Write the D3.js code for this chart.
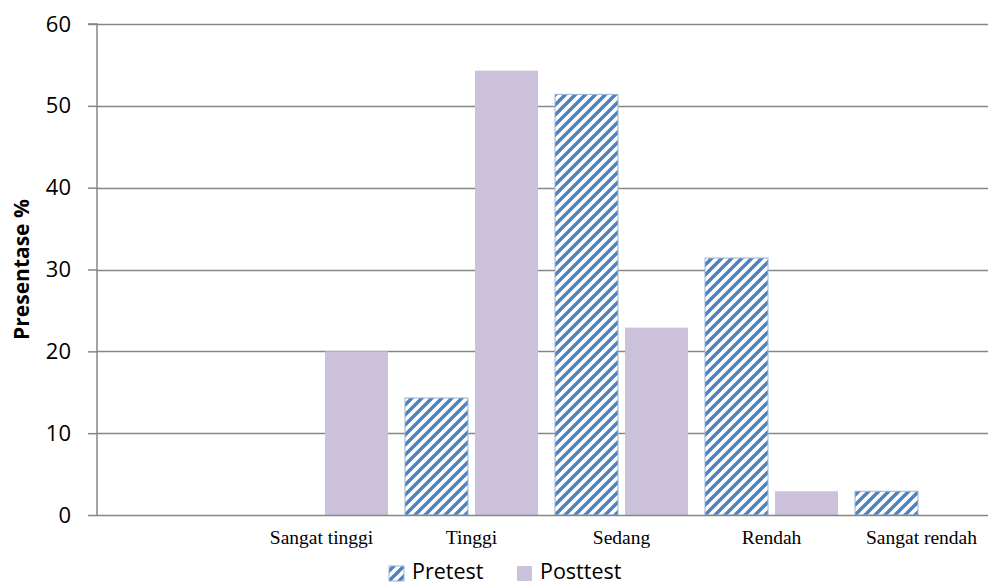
<!DOCTYPE html>
<html>
<head>
<meta charset="utf-8">
<script src="https://cdn.jsdelivr.net/npm/d3@7"></script>
<style>
  html, body { margin: 0; padding: 0; background: #fff; }
  svg { display: block; }
</style>
</head>
<body>
<svg id="chart" width="988" height="585"></svg>
<script>
// Category slots (the first slot is left blank on the axis)
const categories = ["", "Sangat tinggi", "Tinggi", "Sedang", "Rendah", "Sangat rendah"];
const seriesNames = ["Pretest", "Posttest"];
const pretest  = [0, 0, 14.3, 51.4, 31.4, 2.9];
const posttest = [0, 20, 54.3, 22.9, 2.9, 0];
const yTicks = [0, 10, 20, 30, 40, 50, 60];

const svg = d3.select("#chart");
const plotLeft = 96.5, plotRight = 996.5, plotTop = 24, plotBottom = 515;

const x = d3.scaleBand().domain(categories).range([plotLeft, plotRight]).paddingInner(0).paddingOuter(0);
const inner = d3.scaleBand().domain(seriesNames).range([8.5, 141.5]).paddingInner(0.1);
const y = d3.scaleLinear().domain([0, 60]).range([plotBottom, plotTop]);

// Diagonal hatch for the pretest bars
const defs = svg.append("defs");
const pat = defs.append("pattern")
  .attr("id", "hatch").attr("patternUnits", "userSpaceOnUse")
  .attr("width", 10).attr("height", 10);
pat.append("rect").attr("width", 10).attr("height", 10).attr("fill", "#fff");
pat.append("path").attr("d", "M-2,2 L2,-2 M0,10 L10,0 M8,12 L12,8")
  .attr("stroke", "#4f81bd").attr("stroke-width", 3.4);

// Gridlines
svg.append("g").selectAll("line").data(yTicks.filter(d => d > 0)).join("line")
  .attr("x1", plotLeft).attr("x2", 988)
  .attr("y1", d => Math.round(y(d)) + 0.5).attr("y2", d => Math.round(y(d)) + 0.5)
  .attr("stroke", "#868686").attr("stroke-width", 1.5);

// Y axis
const yAxis = d3.axisLeft(y).tickValues(yTicks).tickSize(9).tickPadding(17).tickFormat(d3.format("d"));
const gy = svg.append("g").attr("transform", `translate(${plotLeft + 0.5},0)`).call(yAxis);
gy.select(".domain").attr("stroke", "#868686").attr("stroke-width", 1.5).attr("d", `M-9,${plotTop}H0V${plotBottom}`);
gy.selectAll(".tick line").attr("stroke", "#868686").attr("stroke-width", 1.5);
gy.selectAll(".tick text").attr("font-family", "'Open Sans', 'Noto Sans', sans-serif")
  .attr("font-size", 22).attr("fill", "#000");

// Bars
const rows = categories.map((c, i) => ({ c, pre: pretest[i], post: posttest[i] }));
const gBars = svg.append("g");
gBars.selectAll("rect.pre").data(rows.filter(d => d.pre > 0)).join("rect")
  .attr("class", "pre")
  .attr("x", d => x(d.c) + inner("Pretest"))
  .attr("width", inner.bandwidth())
  .attr("y", d => y(d.pre))
  .attr("height", d => y(0) - y(d.pre))
  .attr("fill", "url(#hatch)")
  .attr("stroke", "#95b3d7").attr("stroke-width", 1);
gBars.selectAll("rect.post").data(rows.filter(d => d.post > 0)).join("rect")
  .attr("class", "post")
  .attr("x", d => x(d.c) + inner("Posttest"))
  .attr("width", inner.bandwidth())
  .attr("y", d => y(d.post))
  .attr("height", d => y(0) - y(d.post))
  .attr("fill", "#ccc1da");

// X axis
const xAxis = d3.axisBottom(x).tickSize(0);
const gx = svg.append("g").attr("transform", `translate(0,${plotBottom + 0.5})`).call(xAxis);
gx.select(".domain").attr("stroke", "#868686").attr("stroke-width", 1.5).attr("d", `M${plotLeft},0H988`);
gx.selectAll(".tick text")
  .attr("y", 28.5).attr("dy", null)
  .attr("font-family", "'Liberation Serif', 'Times New Roman', serif")
  .attr("font-size", 19.5).attr("fill", "#000");

// Y title
svg.append("text")
  .attr("transform", `translate(29,${(plotTop + plotBottom) / 2}) rotate(-90)`)
  .attr("text-anchor", "middle")
  .attr("font-family", "'Open Sans', 'Noto Sans', sans-serif")
  .attr("font-weight", "bold").attr("font-size", 21)
  .text("Presentase %");

// Legend
const legend = svg.append("g").attr("font-family", "'Open Sans', 'Noto Sans', sans-serif").attr("font-size", 21.5);
const legItems = [
  { name: seriesNames[0], x: 389, fill: "url(#hatch)", stroke: "#95b3d7" },
  { name: seriesNames[1], x: 517, fill: "#ccc1da", stroke: "none" }
];
legItems.forEach(it => {
  legend.append("rect").attr("x", it.x).attr("y", 566).attr("width", 15).attr("height", 15)
    .attr("fill", it.fill).attr("stroke", it.stroke);
  legend.append("text").attr("x", it.x + 23).attr("y", 579)
    .text(it.name);
});
</script>
</body>
</html>
